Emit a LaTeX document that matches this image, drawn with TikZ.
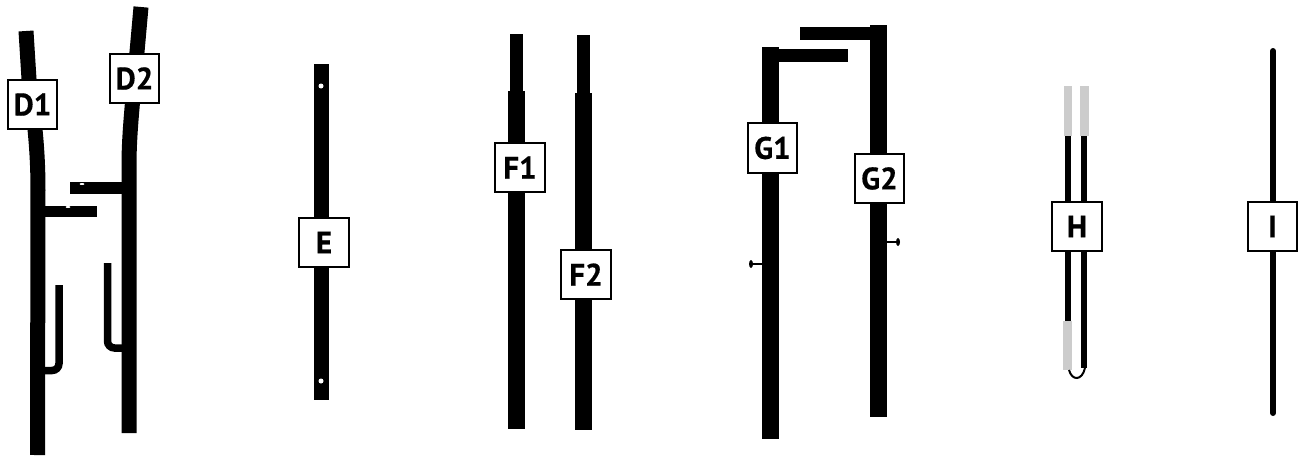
\documentclass[tikz,border=0pt]{standalone}
\usepackage{fontspec}
\setmainfont[BoldFeatures={FakeBold=0.5}]{PT Sans}
\usetikzlibrary{backgrounds}
\newcommand{\tagtext}[2][2pt]{\raisebox{-#1}{#2}}
\tikzset{
	tag/.style={draw, line width=2.4pt, fill=white, minimum size=49.5pt, inner sep=0pt, font=\fontsize{31}{31}\selectfont\bfseries},
	bar/.style={line width=15pt},
	fatbar/.style={line width=17pt},
	slimbar/.style={line width=13pt},
	hook/.style={line width=7.5pt},
	wire/.style={line width=6pt},
	greybar/.style={line width=8.5pt, color=black!20},
	pin/.style={line width=2.5pt}
}

\begin{document}
\begin{tikzpicture}[x=1pt, y=-1pt]
	\useasboundingbox (0,0) rectangle (1303,455);
	\node [tag] (D1) at (32.5,104.5) {\tagtext{D1}};
	\node [tag] (D2) at (134.5,78.5) {\tagtext{D2}};
	\node [tag] (E) at (324,242.5) {\tagtext{E}};
	\node [tag] (F1) at (520,167.5) {\tagtext[5pt]{F1}};
	\node [tag] (F2) at (586,274.5) {\tagtext{F2}};
	\node [tag] (G1) at (772.5,148) {\tagtext{G1}};
	\node [tag] (G2) at (879.5,178.5) {\tagtext{G2}};
	\node [tag] (H) at (1077,226.5) {\tagtext{H}};
	\node [tag] (I) at (1272.5,226.5) {\tagtext{I}};
	\begin{scope}[on background layer]
		% D
		\draw [bar] (26,31) -- (29,79) .. controls (32,105) and (38,140) .. (38,190) -- (37.5,455);
		\draw [bar] (141,7) -- (137,52) .. controls (134,90) and (129,130) .. (129,165) -- (129,433);
		\draw [line width=11.5pt] (38,211.5) -- (97,211.5);
		\draw [line width=11.5pt] (129,188) -- (70,188);
		\draw [hook, rounded corners=7pt] (59,285) -- (59,370.5) -- (38,370.5);
		\draw [hook, rounded corners=7pt] (107.5,263) -- (107.5,348) -- (129,348);
		\fill [white] (68,207) ellipse (2.5 and 1);
		\fill [white] (82,184) ellipse (2.5 and 1);
		% E
		\draw [bar] (321,64) -- (321,400);
		\fill [white] (321,86) circle (2.5);
		\fill [white] (321,381) circle (2.5);
		% F
		\draw [slimbar] (516.5,34) -- (516.5,91);
		\draw [fatbar] (516.5,91) -- (516.5,429);
		\draw [slimbar] (583.5,35) -- (583.5,93);
		\draw [fatbar] (583.5,93) -- (583.5,430);
		% G
		\draw [fatbar] (770.5,47) -- (770.5,439);
		\draw [line width=13pt] (770.5,55.5) -- (848,55.5);
		\draw [fatbar] (878,25) -- (878,417);
		\draw [line width=13pt] (878,33.5) -- (800,33.5);
		\draw [pin] (770.5,264) -- (751,264);
		\fill (751,264) ellipse (2 and 4);
		\draw [pin] (878,242) -- (898,242);
		\fill (898,242) ellipse (2 and 4);
		% H
		\draw [wire] (1068,136) -- (1068,321);
		\draw [wire] (1084,136) -- (1084,368);
		\draw [greybar] (1068,86) -- (1068,136);
		\draw [greybar] (1084.5,86) -- (1084.5,136);
		\draw [line width=9pt, color=black!20] (1067.5,321) -- (1067.5,370);
		\draw [line width=2pt] (1069,370) .. controls (1072,381) and (1082,381) .. (1085,368);
		% I
		\draw [wire, line cap=round] (1273,51) -- (1273,413);
	\end{scope}
\end{tikzpicture}
\end{document}
